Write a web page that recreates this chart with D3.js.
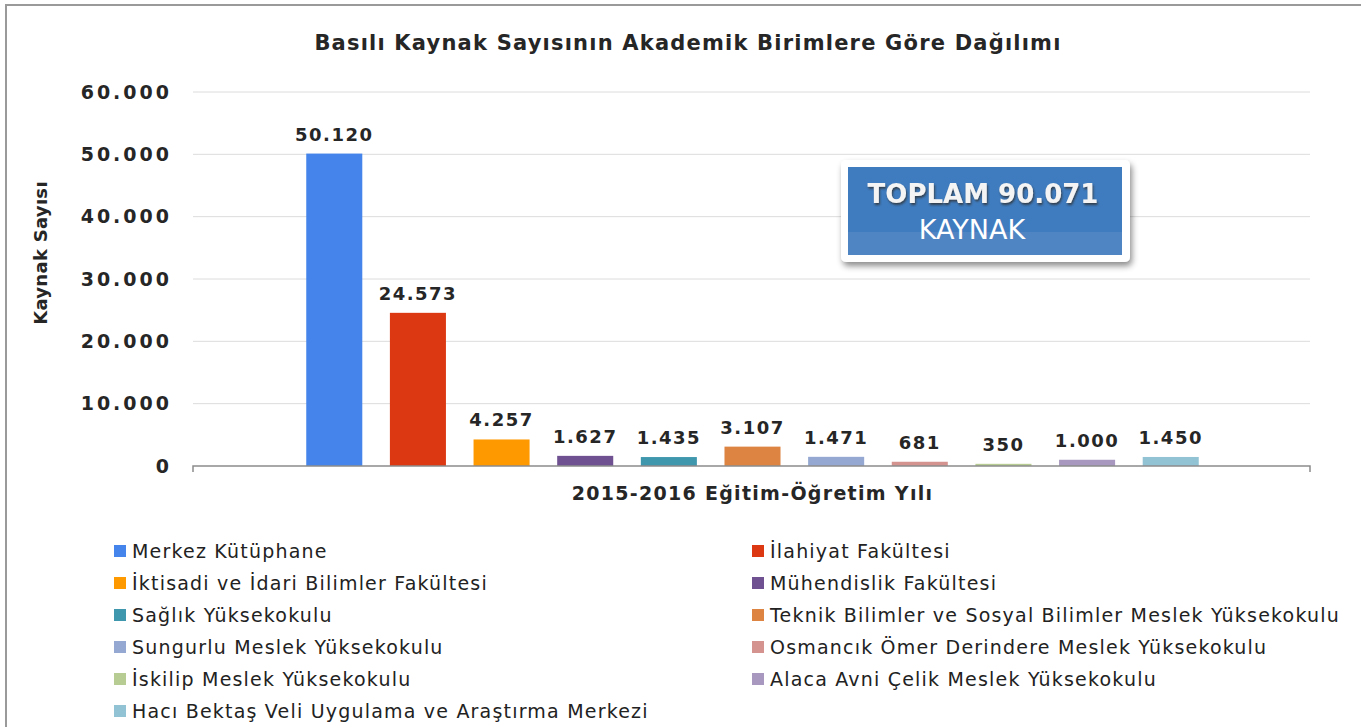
<!DOCTYPE html>
<html>
<head>
<meta charset="utf-8">
<script src="https://cdn.jsdelivr.net/npm/d3@7"></script>
<style>
  body { margin: 0; background: #fff; }
  svg { display: block; font-family: "DejaVu Sans", Verdana, sans-serif; }
</style>
</head>
<body>
<div id="chart"></div>
<script>
// units, values and colours
const units = [
  "Merkez Kütüphane",
  "İlahiyat Fakültesi",
  "İktisadi ve İdari Bilimler Fakültesi",
  "Mühendislik Fakültesi",
  "Sağlık Yüksekokulu",
  "Teknik Bilimler ve Sosyal Bilimler Meslek Yüksekokulu",
  "Sungurlu Meslek Yüksekokulu",
  "Osmancık Ömer Derindere Meslek Yüksekokulu",
  "İskilip Meslek Yüksekokulu",
  "Alaca Avni Çelik Meslek Yüksekokulu",
  "Hacı Bektaş Veli Uygulama ve Araştırma Merkezi"
];
const counts = [50120, 24573, 4257, 1627, 1435, 3107, 1471, 681, 350, 1000, 1450];
const colors = ["#4584ea", "#dc3913", "#ff9900", "#6f5191", "#3f97ae", "#de8443",
                "#94a8d2", "#d59390", "#b6cc92", "#a898bf", "#92c3d5"];
const yTicks = [0, 10000, 20000, 30000, 40000, 50000, 60000];
const chartTitle = "Basılı Kaynak Sayısının Akademik Birimlere Göre Dağılımı";
const yTitle = "Kaynak Sayısı";
const xTitle = "2015-2016 Eğitim-Öğretim Yılı";
const totalLines = ["TOPLAM 90.071", "KAYNAK"];

const W = 1361, H = 727;
const margin = {top: 92, left: 195, right: 51, bottom: 261};
const plotW = W - margin.left - margin.right;
const plotH = H - margin.top - margin.bottom;

const tr = d3.formatLocale({decimal: ",", thousands: ".", grouping: [3], currency: ["", " TL"]});
const fmt = tr.format(",d");

const svg = d3.select("#chart").append("svg")
    .attr("width", W)
    .attr("height", H);

// outer frame
svg.append("rect")
    .attr("x", 6).attr("y", 5)
    .attr("width", W + 10).attr("height", H + 10)
    .attr("fill", "#fff")
    .attr("stroke", "#9a9a9a")
    .attr("stroke-width", 2);

svg.append("text")
    .attr("x", 688)
    .attr("y", 50)
    .attr("text-anchor", "middle")
    .style("font-size", "21px")
    .style("font-weight", "bold")
    .style("letter-spacing", "1.2px")
    .style("fill", "#262626")
    .text(chartTitle);

const g = svg.append("g")
    .attr("transform", `translate(${margin.left},${margin.top})`);

const y = d3.scaleLinear()
    .domain([0, 60000])
    .range([plotH, 0]);

const x = d3.scaleBand()
    .domain(units)
    .range([0, plotW])
    .paddingInner(0.33)
    .paddingOuter(1.33);

// gridlines
g.append("g")
  .selectAll("line")
  .data(yTicks.filter(d => d > 0))
  .join("line")
    .attr("x1", -2)
    .attr("x2", plotW)
    .attr("y1", d => y(d))
    .attr("y2", d => y(d))
    .attr("stroke", "#dcdcdc")
    .attr("stroke-width", 1);

// y axis labels
const yAxis = g.append("g")
    .call(d3.axisLeft(y).tickValues(yTicks).tickFormat(fmt).tickSize(0).tickPadding(23));
yAxis.select(".domain").remove();
yAxis.selectAll("text")
    .style("font-family", "DejaVu Sans, sans-serif")
    .style("font-size", "19px")
    .style("font-weight", "bold")
    .style("letter-spacing", "3px")
    .style("fill", "#262626");

// bars
g.append("g")
  .selectAll("rect")
  .data(counts)
  .join("rect")
    .attr("x", (d, i) => x(units[i]))
    .attr("y", d => y(d))
    .attr("width", x.bandwidth())
    .attr("height", d => plotH - y(d))
    .attr("fill", (d, i) => colors[i]);

// value labels
g.append("g")
  .selectAll("text")
  .data(counts)
  .join("text")
    .attr("x", (d, i) => x(units[i]) + x.bandwidth() / 2)
    .attr("y", d => y(d) - 13)
    .attr("text-anchor", "middle")
    .style("font-size", "18px")
    .style("font-weight", "bold")
    .style("letter-spacing", "1.5px")
    .style("fill", "#262626")
    .text(d => fmt(d));

// x axis line with end ticks
const xAxis = g.append("g")
    .attr("transform", `translate(0,${plotH})`);
xAxis.append("path")
    .attr("d", `M-2,6V0H${plotW}V6`)
    .attr("fill", "none")
    .attr("stroke", "#8c8c8c")
    .attr("stroke-width", 1.5);

// axis titles
svg.append("text")
    .attr("x", margin.left + plotW / 2)
    .attr("y", 500)
    .attr("text-anchor", "middle")
    .style("font-size", "19px")
    .style("font-weight", "bold")
    .style("letter-spacing", "1.3px")
    .style("fill", "#262626")
    .text(xTitle);

svg.append("text")
    .attr("transform", "translate(47,253) rotate(-90)")
    .attr("text-anchor", "middle")
    .style("font-size", "18px")
    .style("font-weight", "bold")
    .style("letter-spacing", "0.3px")
    .style("fill", "#262626")
    .text(yTitle);

// total box
const box = svg.append("g").attr("transform", "translate(841,160)");
const defs = svg.append("defs");
const f = defs.append("filter").attr("id", "shadow")
    .attr("x", "-10%").attr("y", "-10%").attr("width", "130%").attr("height", "140%");
f.append("feDropShadow")
    .attr("dx", 2).attr("dy", 4).attr("stdDeviation", 3)
    .attr("flood-color", "#000").attr("flood-opacity", 0.45);
const ts = defs.append("filter").attr("id", "tshadow");
ts.append("feDropShadow")
    .attr("dx", 1).attr("dy", 2).attr("stdDeviation", 1)
    .attr("flood-color", "#333").attr("flood-opacity", 0.8);

box.append("rect")
    .attr("width", 289).attr("height", 102).attr("rx", 5)
    .attr("fill", "#fff")
    .attr("filter", "url(#shadow)");
box.append("rect")
    .attr("x", 7).attr("y", 7).attr("width", 274).attr("height", 88)
    .attr("fill", "#3f7cbf");
box.append("rect")
    .attr("x", 7).attr("y", 72).attr("width", 274).attr("height", 23)
    .attr("fill", "#5085c3");
box.append("text")
    .attr("x", 142).attr("y", 43)
    .attr("text-anchor", "middle")
    .style("font-size", "26px")
    .style("font-weight", "bold")
    .style("fill", "#f4f4f4")
    .attr("filter", "url(#tshadow)")
    .text(totalLines[0]);
box.append("text")
    .attr("x", 131).attr("y", 79)
    .attr("text-anchor", "middle")
    .style("font-size", "27px")
    .style("fill", "#fff")
    .text(totalLines[1]);

// legend, two columns
const legend = svg.append("g");
const item = legend.selectAll("g")
  .data(units)
  .join("g")
    .attr("transform", (d, i) => `translate(${i % 2 ? 752 : 114},${545 + Math.floor(i / 2) * 32})`);
item.append("rect")
    .attr("width", 12).attr("height", 12)
    .attr("fill", (d, i) => colors[i]);
item.append("text")
    .attr("x", 18)
    .attr("y", 13)
    .style("font-size", "19px")
    .style("letter-spacing", "1.2px")
    .style("fill", "#222")
    .text(d => d);
</script>
</body>
</html>
